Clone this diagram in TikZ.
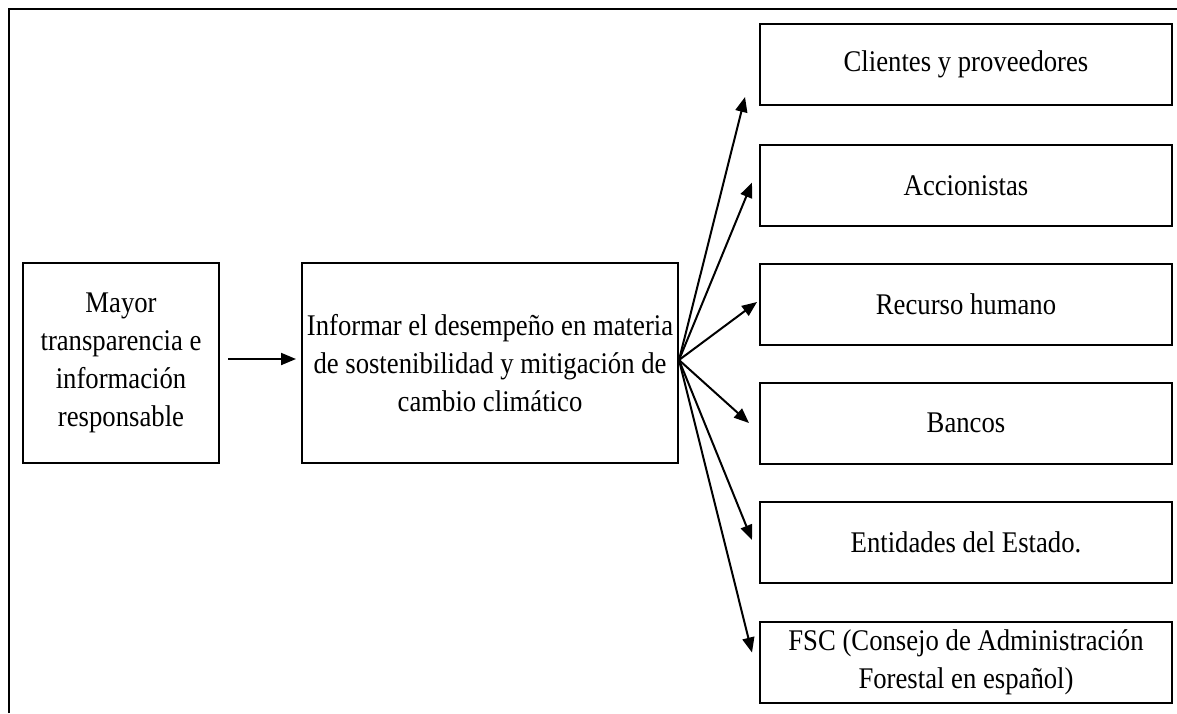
\documentclass[tikz,border=0pt]{standalone}
\usepackage{fontspec}
\setmainfont{Liberation Serif}[FakeStretch=0.89]
\usetikzlibrary{arrows.meta}
\begin{document}
\begin{tikzpicture}[x=1pt,y=-1pt,
  box/.style={draw,line width=2pt,inner sep=0pt,align=center,
    font=\fontsize{30}{38}\selectfont},
  rbox/.style={box,minimum width=412pt,minimum height=81pt},
  arr/.style={line width=2pt,-{Triangle[length=15pt,width=12pt]}}]
\useasboundingbox (0,0) rectangle (1177,713);
\draw[line width=2.2pt] (9,713) -- (9,9) -- (1177,9);
\node[box,minimum width=196pt,minimum height=200pt] (left) at (121,363)
  {Mayor\\transparencia e\\información\\responsable};
\node[box,minimum width=376pt,minimum height=200pt] (mid) at (490,363)
  {Informar el desempeño en materia\\de sostenibilidad y mitigación de\\cambio climático};
\node[rbox] (c1) at (966,64.5) {Clientes y proveedores};
\node[rbox] (c2) at (966,185.5) {Accionistas};
\node[rbox] (c3) at (966,304) {Recurso humano};
\node[rbox] (c4) at (966,423) {Bancos};
\node[rbox] (c5) at (966,542.5) {Entidades del Estado.};
\node[rbox] (c6) at (966,662.5) {FSC (Consejo de Administración\\Forestal en español)};
\draw[arr] ([xshift=8pt,yshift=4pt]left.east) -- ([xshift=-5pt,yshift=4pt]mid.west);
\coordinate (o) at ([yshift=3pt]mid.east);
\draw[arr] (o) -- ([xshift=-14pt,yshift=-32.5pt]c1.west);
\draw[arr] (o) -- ([xshift=-7pt,yshift=3pt]c2.west);
\draw[arr] (o) -- ([xshift=-2pt,yshift=2pt]c3.west);
\draw[arr] (o) -- ([xshift=-10pt,yshift=0pt]c4.west);
\draw[arr] (o) -- ([xshift=-7pt,yshift=2.5pt]c5.west);
\draw[arr] (o) -- ([xshift=-7pt,yshift=10pt]c6.west);
\end{tikzpicture}
\end{document}
